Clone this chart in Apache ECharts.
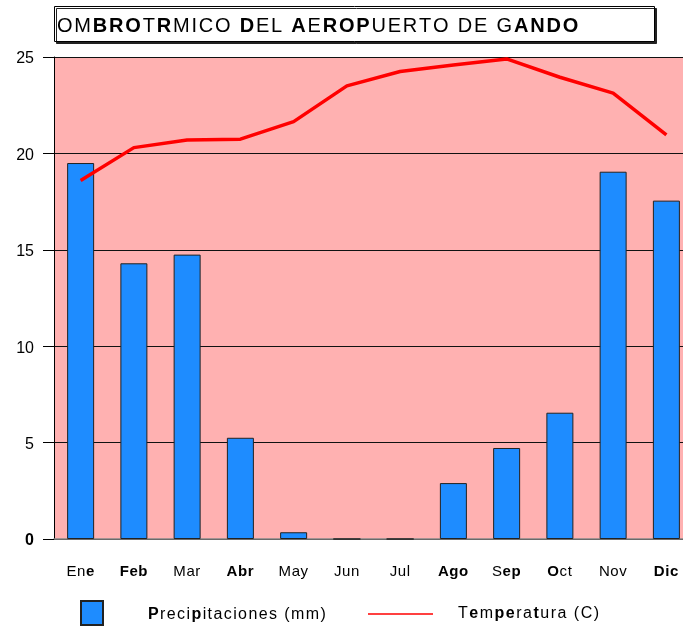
<!DOCTYPE html>
<html><head><meta charset="utf-8">
<script src="https://cdn.jsdelivr.net/npm/echarts@6/dist/echarts.min.js"></script>
<style>html,body{margin:0;padding:0;background:#fff}#c{width:683px;height:626px}</style>
</head><body><div id="c"></div>
<script>
const months = ['Ene','Feb','Mar','Abr','May','Jun','Jul','Ago','Sep','Oct','Nov','Dic'];
// bold mask per label letter ('1' = bold)
const monthBold = ['001','111','000','111','000','000','000','111','011','100','000','111'];
const precip = [19.5, 14.3, 14.75, 5.25, 0.35, 0, 0, 2.9, 4.72, 6.55, 19.05, 17.55];
const temp = [18.6, 20.3, 20.7, 20.74, 21.65, 23.5, 24.25, 24.58, 24.9, 23.95, 23.13, 20.96];
const yTicks = [0, 5, 10, 15, 20, 25];
const titleText = 'OMBROTRMICO DEL AEROPUERTO DE GANDO';
const titleBold = '00111010000010001011100000000001111';
const legendNames = ['Precipitaciones (mm)', 'Temperatura (C)'];
const legendBold = ['10000100000000000000', '010110010000000'];

const F = 'Liberation Sans, Arial, sans-serif';
function spaced(text, mask) {
  let s = '';
  for (let i = 0; i < text.length; i++) {
    const c = text[i];
    if (c === ' ') s += '{s|\u00a0}';
    else s += '{' + (mask[i] === '1' ? 'b' : 'n') + '|' + c + '}';
  }
  return s;
}
function richSet(size, gap) {
  return {
    n: { fontFamily: F, fontSize: size, fontWeight: 'normal', color: '#000', padding: [0, gap, 0, 0] },
    b: { fontFamily: F, fontSize: size, fontWeight: 'bold', color: '#000', padding: [0, gap, 0, 0] },
    s: { fontFamily: F, fontSize: size, color: '#000', padding: [0, gap, 0, 0] }
  };
}

const chart = echarts.init(document.getElementById('c'));
chart.setOption({
  animation: false,
  backgroundColor: '#fff',
  title: {
    text: spaced(titleText, titleBold), left: 57, top: 16, padding: 0,
    textStyle: { rich: richSet(20, 1.8) }
  },
  graphic: [{
    type: 'rect', z: -1, shape: { x: 54.5, y: 6.5, width: 600, height: 35 },
    style: { fill: '#fff', stroke: '#000', lineWidth: 1, shadowColor: '#222', shadowOffsetX: 2, shadowOffsetY: 2, shadowBlur: 0 }
  }],
  legend: [{
    data: [legendNames[0]], left: 80, top: 600, padding: 0,
    itemWidth: 22, itemHeight: 24, icon: 'rect',
    formatter: n => spaced(n, legendBold[0]),
    textStyle: { padding: [4, 0, 0, 40], rich: richSet(16, 1.4) }
  }, {
    data: [{ name: legendNames[1], icon: 'rect' }], left: 368, top: 606, padding: 0,
    itemWidth: 65, itemHeight: 2,
    itemStyle: { color: '#ff4040', borderWidth: 0 },
    formatter: n => spaced(n, legendBold[1]),
    textStyle: { padding: [0, 0, 0, 20], rich: richSet(16, 1.5) }
  }],
  grid: { left: 54, width: 639, top: 57, bottom: 87, outerBoundsMode: 'none', containLabel: false,
    show: true, backgroundColor: '#ffb1b1', borderWidth: 0 },
  xAxis: {
    type: 'category', data: months,
    axisLine: { lineStyle: { color: '#888', width: 1.5 } },
    axisTick: { alignWithLabel: true, length: 10, lineStyle: { color: '#333' } },
    axisLabel: {
      interval: 0, margin: 25,
      formatter: (v, i) => spaced(v, monthBold[i]),
      rich: richSet(15, 0.6)
    }
  },
  yAxis: {
    type: 'value', min: 0, max: 25, interval: 5,
    axisLine: { show: true, lineStyle: { color: '#000' } },
    axisTick: { show: true, length: 11, lineStyle: { color: '#000' } },
    axisLabel: { margin: 20, fontFamily: F, fontSize: 16, color: '#000', padding: [4, 0, 0, 0],
      formatter: v => yTicks.includes(v) ? (v === 0 ? '{b|0}' : String(v)) : '',
      rich: { b: { fontFamily: F, fontSize: 16, fontWeight: 'bold', color: '#000' } } },
    splitLine: { show: true, lineStyle: { color: '#111', width: 1 } }
  },
  series: [{
    name: legendNames[0], type: 'bar', data: precip, barWidth: 27,
    itemStyle: { color: '#1e8cff', borderColor: '#222', borderWidth: 1 }
  }, {
    name: legendNames[1], type: 'line', data: temp, symbol: 'none', z: 5,
    lineStyle: { color: '#ff0000', width: 3.5 }
  }]
});
</script></body></html>
